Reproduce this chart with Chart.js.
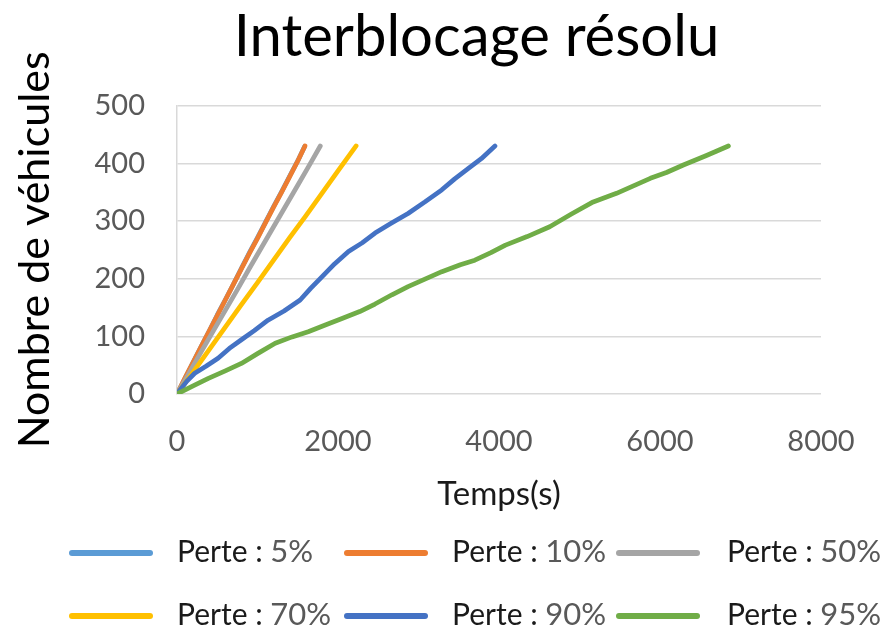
<!DOCTYPE html>
<html lang="fr">
<head>
<meta charset="utf-8">
<title>Interblocage résolu</title>
<script src="https://cdn.jsdelivr.net/npm/chart.js@4.4.1/dist/chart.umd.min.js"></script>
<style>
  html, body { margin: 0; padding: 0; background: #ffffff; }
  #wrap { width: 891px; height: 630px; position: relative; }
</style>
</head>
<body>
<div id="wrap"><canvas id="chart" width="891" height="630"></canvas></div>
<script>
// Taux de perte de chaque simulation
const lossLabels = ['5%', '10%', '50%', '70%', '90%', '95%'];
const lossColors = ['#5B9BD5', '#ED7D31', '#A5A5A5', '#FFC000', '#4472C4', '#70AD47'];

// Temps (s) et nombre cumulé de véhicules pour chaque taux de perte
const t5  = [0, 100, 200, 300, 400, 500, 600, 700, 800, 900, 1000, 1100, 1200, 1300, 1400, 1500, 1585];
const v5  = [0, 27, 55, 82, 109, 137, 163, 190, 218, 245, 271, 298, 325, 351, 378, 404, 429];

const t10 = [0, 100, 200, 300, 400, 500, 600, 700, 800, 900, 1000, 1100, 1200, 1300, 1400, 1500, 1590];
const v10 = [0, 28, 55, 82, 109, 136, 163, 190, 217, 244, 270, 297, 324, 350, 377, 404, 430];

const t50 = [0, 150, 300, 450, 600, 750, 900, 1050, 1200, 1350, 1500, 1650, 1780];
const v50 = [0, 36, 73, 109, 145, 181, 218, 254, 290, 326, 362, 398, 430];

const t70 = [0, 200, 400, 600, 800, 1000, 1200, 1400, 1600, 1800, 2000, 2225];
const v70 = [0, 38, 77, 116, 155, 193, 232, 271, 309, 348, 387, 430];

const t90 = [0, 120, 220, 360, 510, 650, 800, 960, 1130, 1330, 1530, 1660, 1800, 1960, 2130,
             2300, 2460, 2660, 2870, 3080, 3290, 3450, 3620, 3780, 3950];
const v90 = [0, 22, 36, 48, 62, 79, 94, 110, 128, 144, 163, 183, 203, 226, 247,
             262, 279, 296, 313, 333, 354, 373, 391, 408, 430];

const t95 = [0, 200, 390, 600, 800, 1000, 1220, 1430, 1630, 1850, 2050, 2270, 2460, 2670, 2870, 3080,
             3290, 3520, 3700, 3900, 4080, 4350, 4630, 4900, 5170, 5460, 5670, 5880, 6080, 6290, 6570, 6850];
const v95 = [0, 14, 27, 40, 53, 70, 88, 99, 108, 120, 131, 143, 156, 172, 186, 199,
             212, 224, 232, 245, 258, 273, 290, 312, 333, 348, 361, 374, 384, 397, 413, 430];

// Graduations des axes
const xTicks = [0, 2000, 4000, 6000, 8000];
const yTicks = [0, 100, 200, 300, 400, 500];

const seriesTimes  = [t5, t10, t50, t70, t90, t95];
const seriesCounts = [v5, v10, v50, v70, v90, v95];

const FONT = 'Lato, "Open Sans", sans-serif';
const TICK_COLOR = '#595959';
const GRID_COLOR = '#d9d9d9';

function toPoints(xs, ys) {
  return xs.map((x, i) => ({ x: x, y: ys[i] }));
}

const datasets = lossLabels.map((lab, i) => ({
  label: 'Perte : ' + lab,
  data: toPoints(seriesTimes[i], seriesCounts[i]),
  borderColor: lossColors[i],
  backgroundColor: lossColors[i],
  borderWidth: 4.7,
  borderCapStyle: 'round',
  borderJoinStyle: 'round',
  pointRadius: 0,
  tension: 0,
  fill: false,
  // later series are painted over earlier ones
  order: lossLabels.length - i
}));

// Shift the title block so the heading sits centred over the whole figure
const titleShift = {
  id: 'titleShift',
  afterLayout(chart) {
    const tb = chart.titleBlock;
    if (tb) { tb.left += 66; tb.right += 66; }
  }
};

// Legend in a fixed 3 x 2 grid below the axes
const gridLegend = {
  id: 'gridLegend',
  afterDraw(chart) {
    const ctx = chart.ctx;
    const swatchX = [72, 347, 619];
    const textX = [177, 452, 727];
    const rowY = [553, 616];
    ctx.save();
    chart.data.datasets.forEach((ds, i) => {
      const col = i % 3, row = Math.floor(i / 3);
      const y = rowY[row];
      ctx.strokeStyle = ds.borderColor;
      ctx.lineWidth = 6;
      ctx.lineCap = 'round';
      ctx.beginPath();
      ctx.moveTo(swatchX[col], y);
      ctx.lineTo(swatchX[col] + 78, y);
      ctx.stroke();

      ctx.textBaseline = 'alphabetic';
      ctx.textAlign = 'left';
      const head = 'Perte : ';
      ctx.font = '30px ' + FONT;
      ctx.fillStyle = '#1a1a1a';
      ctx.fillText(head, textX[col], y + 9);
      const w = ctx.measureText(head).width;
      ctx.font = '31px ' + FONT;
      ctx.fillStyle = TICK_COLOR;
      ctx.fillText(lossLabels[i], textX[col] + w, y + 9);
    });
    ctx.restore();
  }
};

new Chart(document.getElementById('chart'), {
  type: 'line',
  data: { datasets: datasets },
  plugins: [titleShift, gridLegend],
  options: {
    responsive: false,
    animation: false,
    events: [],
    layout: { padding: { top: 0, left: 0, right: 70, bottom: 116 } },
    plugins: {
      legend: { display: false },
      tooltip: { enabled: false },
      title: {
        display: true,
        text: 'Interblocage résolu',
        color: '#000000',
        font: { family: FONT, size: 58, weight: 'normal', lineHeight: 1.2 },
        padding: { top: 2, bottom: 34 }
      }
    },
    scales: {
      x: {
        type: 'linear',
        min: 0,
        max: 8000,
        afterBuildTicks(scale) { scale.ticks = xTicks.map(v => ({ value: v })); },
        afterFit(scale) { scale.height = 120; },
        grid: { display: false, drawTicks: false },
        border: { display: false },
        ticks: {
          color: TICK_COLOR,
          padding: 30,
          maxRotation: 0,
          callback: v => String(v),
          font: { family: FONT, size: 29, lineHeight: 1.2 }
        },
        title: {
          display: true,
          text: 'Temps(s)',
          color: '#1a1a1a',
          font: { family: FONT, size: 33, lineHeight: 1.2 },
          padding: { top: 0, bottom: 0 }
        }
      },
      y: {
        type: 'linear',
        min: 0,
        max: 500,
        afterBuildTicks(scale) { scale.ticks = yTicks.map(v => ({ value: v })); },
        afterFit(scale) { scale.width = 177; },
        grid: { color: GRID_COLOR, lineWidth: 1.5, drawTicks: false },
        border: { display: true, color: GRID_COLOR, width: 1.5 },
        ticks: {
          color: TICK_COLOR,
          padding: 32,
          callback: v => String(v),
          font: { family: FONT, size: 29, lineHeight: 1.2 }
        },
        title: {
          display: true,
          text: 'Nombre de véhicules',
          color: '#000000',
          font: { family: FONT, size: 43, lineHeight: 1.2 },
          padding: { top: 9, bottom: 0 }
        }
      }
    }
  }
});
</script>
</body>
</html>
